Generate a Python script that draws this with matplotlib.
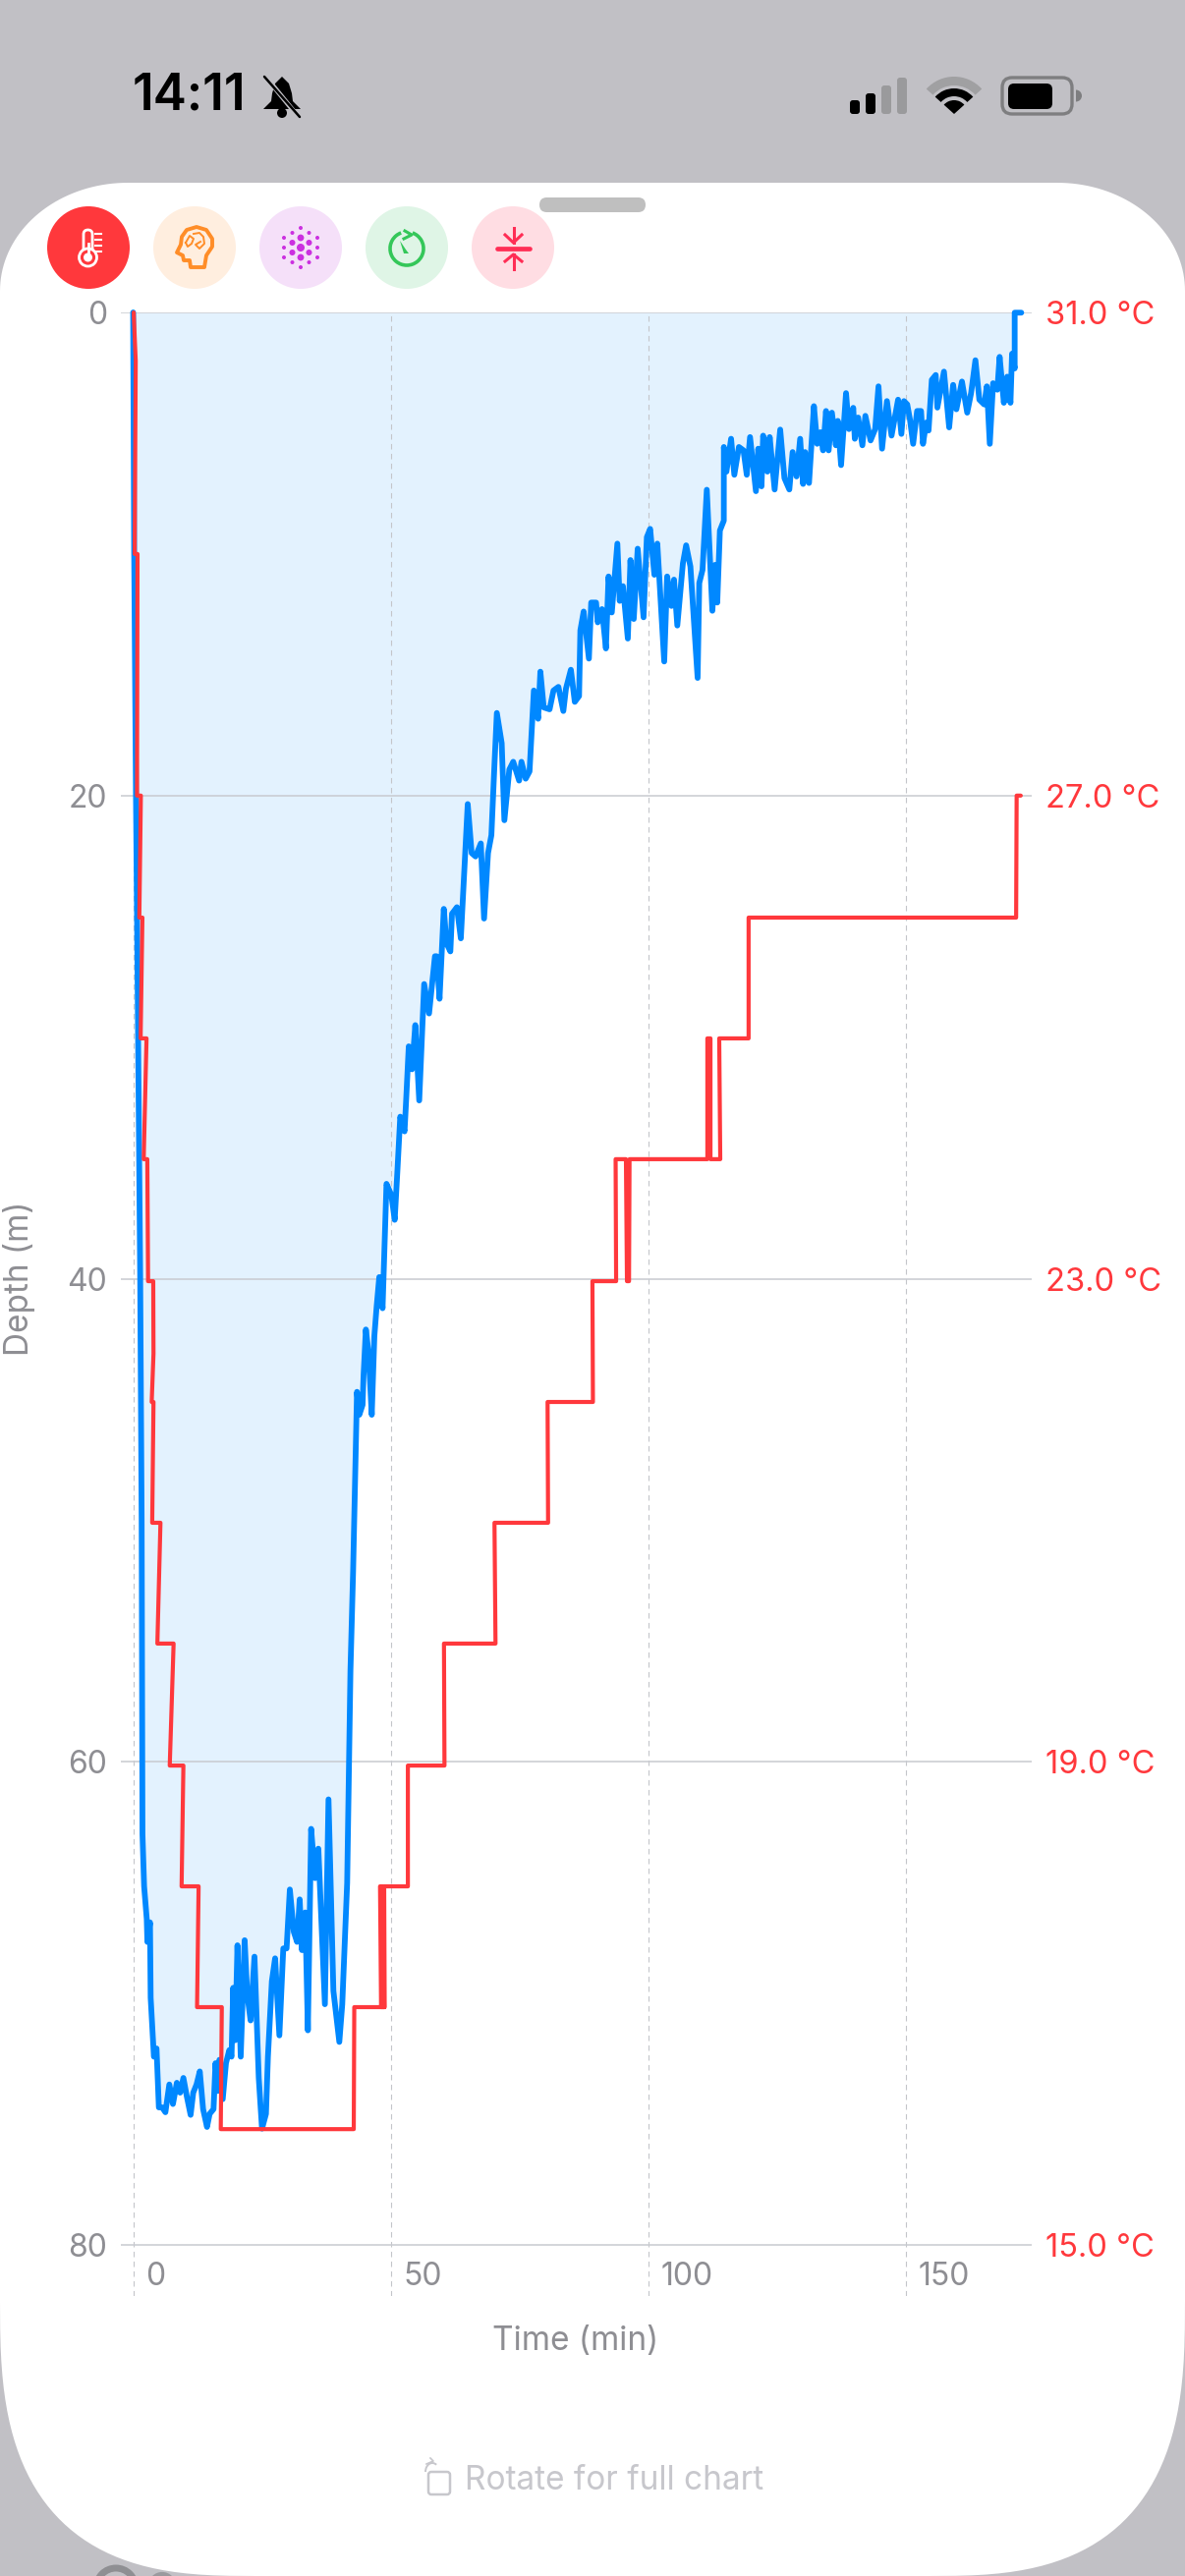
import numpy as np
import matplotlib
matplotlib.use("Agg")
import matplotlib.pyplot as plt
from matplotlib.patches import Circle, Polygon, FancyBboxPatch, Wedge, Arc

plt.rcParams["font.family"] = ["Inter", "DejaVu Sans"]

W, H = 1206, 2622

# depth profile
depth_time = [0.0, 0.1, 0.2, 0.55, 0.95, 1.37, 1.65, 1.81, 2.13, 2.64, 2.76, 3.27, 3.40, 3.91, 4.03, 4.54, 4.99, 5.62, 6.26,
              7.02, 7.72, 8.48, 9.12, 9.75, 10.39, 11.15, 11.66, 12.3, 12.93, 13.57, 14.33, 14.84, 15.6, 15.98, 16.43,
              16.74, 17.38, 18.01, 18.65, 19.09, 19.41, 19.79, 20.24, 20.87, 21.63, 22.14, 22.78, 23.54, 24.37, 25.0,
              25.77, 26.15, 26.91, 27.54, 28.37, 29.13, 29.77, 30.4, 31.17, 31.8, 32.31, 32.75, 33.39, 33.9, 34.53,
              35.3, 35.93, 37.2, 37.9, 38.85, 40.0, 40.57, 41.52, 42.16, 42.67, 43.43, 43.88, 44.51, 44.7, 45.15,
              45.66, 46.29, 46.8, 47.24, 47.75, 48.39, 49.15, 50.1, 50.74, 51.25, 51.82, 52.65, 52.96, 53.47, 54.1,
              54.74, 55.5, 56.46, 57.41, 58.55, 58.87, 59.44, 60.27, 60.78, 61.54, 61.86, 62.81, 63.57, 64.91, 65.67,
              66.43, 67.45, 68.08, 68.85, 69.5, 70.1, 70.56, 71.5, 72.02, 72.98, 73.74, 74.88, 75.33, 76.15, 76.9,
              77.74, 78.57, 79.0, 79.65, 80.79, 81.55, 82.5, 83.46, 83.97, 84.92, 85.68, 86.51, 86.76, 87.4, 88.42,
              88.86, 89.81, 90.13, 90.95, 91.72, 92.23, 92.86, 93.94, 94.39, 95.02, 95.97, 96.48, 97.12, 97.88, 99.02,
              99.66, 100.3, 101.12, 101.69, 103.03, 103.6, 104.43, 104.93, 105.57, 106.65, 107.28, 108.11, 109.51,
              109.83, 110.46, 111.29, 112.37, 112.88, 113.32, 113.83, 114.59, 114.6, 115.1, 116.0, 116.63, 117.52,
              118.41, 119.04, 119.68, 120.82, 121.27, 121.9, 122.22, 123.05, 123.49, 124.45, 125.53, 126.35, 127.3,
              127.94, 128.7, 129.4, 129.97, 130.35, 131.12, 132.07, 132.7, 133.34, 133.85, 134.42, 134.93, 135.56,
              136.33, 136.71, 137.34, 138.3, 138.87, 139.7, 140.0, 140.65, 141.47, 142.05, 143.06, 143.95, 144.6,
              145.29, 146.24, 147.13, 148.4, 149.04, 149.54, 150.18, 150.69, 151.32, 152.09, 152.85, 153.23, 153.86,
              154.31, 154.94, 155.7, 156.02, 157.3, 158.31, 159.08, 159.71, 160.79, 161.81, 162.57, 163.4, 164.16,
              165.11, 165.62, 166.19, 166.83, 167.65, 168.1, 168.92, 169.56, 170.2, 170.51, 171.02, 171.02, 172.3]
depth_m = [0.0, 5.0, 10.0, 20.0, 30.0, 40.0, 50.0, 62.98, 65.15, 66.5, 67.45, 66.64, 69.76, 71.79, 72.2, 71.86, 74.3, 74.3, 74.5,
           73.35, 74.16, 73.28, 73.69, 73.08, 73.82, 74.61, 73.69, 73.35, 72.81, 74.37, 75.11, 74.57, 74.37, 72.47, 73.62,
           72.33, 73.96, 72.47, 71.93, 72.2, 69.35, 71.52, 67.59, 72.2, 67.38, 69.62, 70.7, 68.06, 73.08, 75.18,
           74.57, 72.2, 69.08, 68.13, 71.32, 67.72, 67.72, 65.28, 67.04, 67.45, 65.69, 67.79, 66.23, 71.11, 62.77,
           64.81, 63.59, 70.03, 61.55, 69.48, 71.59, 70.03, 65.01, 56.2, 52.13, 44.68, 45.63, 45.22, 44.0, 42.1,
           43.05, 45.63, 42.37, 41.15, 39.93, 41.22, 36.07, 36.54, 37.56, 35.6, 33.29, 33.9, 32.62, 30.38, 31.33,
           29.5, 32.62, 27.8, 29.02, 26.65, 26.65, 28.41, 24.69, 26.11, 26.45, 24.89, 24.62, 25.91, 20.35, 22.38,
           22.52, 21.98, 25.09, 22.38, 21.64, 18.7, 16.58, 17.83, 21.02, 18.92, 18.6, 19.38, 18.6, 19.3, 19.0,
           15.65, 16.82, 14.87, 16.35, 16.43, 15.65, 15.5, 16.5, 15.57, 14.79, 16.12, 15.88, 13.16, 12.38, 14.33,
           12.01, 12.01, 12.83, 12.28, 13.91, 10.93, 12.42, 9.57, 11.94, 11.33, 13.5, 10.25, 12.69, 9.78, 12.62,
           9.3, 8.96, 10.86, 9.57, 14.45, 10.93, 12.15, 11.06, 12.96, 10.39, 9.64, 10.52, 15.13,
           11.2, 10.66, 7.34, 12.35, 10.45, 12.01, 9.03, 8.62, 5.57, 6.59, 5.23, 6.72, 5.57,
           5.71, 6.72, 5.16, 7.4, 5.64, 7.2, 5.1, 6.59, 5.16, 7.33, 4.85, 6.86, 7.33,
           5.78, 6.79, 5.23, 7.1, 5.78, 7.06, 3.88, 5.44, 4.96, 5.71, 4.08, 5.71, 4.15,
           5.5, 4.49, 6.32, 3.34, 4.83, 3.95, 5.23, 4.35, 5.5, 4.28, 5.3, 4.83, 3.06,
           5.64, 3.67, 5.1, 3.61, 5.03, 3.67, 3.81, 4.42, 5.44, 4.08, 4.08, 5.44, 4.56,
           4.89, 2.79, 2.59, 3.94, 2.45, 4.76, 3.0, 4.01, 2.86, 4.15, 3.33, 1.98, 3.61,
           3.81, 3.06, 5.44, 2.93, 3.2, 1.84, 3.74, 2.66, 3.74, 1.71, 2.32, 0.01, 0.01]

# water temperature, goes in whole degrees (sits a hair under the gridlines further down)
temp_time = [0.1, 0.5, 0.3, 0.85, 0.75, 1.5, 1.2, 1.8, 1.45, 2.6, 2.05, 2.75, 2.9, 3.9, 3.95, 3.6, 3.95, 3.7, 5.3, 4.7,
             7.85, 7.1, 9.75, 9.4, 12.7, 12.4, 17.2, 17.0, 42.8, 42.9, 48.7, 48.5, 47.9, 48.1, 48.8, 48.7, 53.3, 53.3,
             60.4, 60.3, 70.3, 70.1, 80.5, 80.4, 89.2, 89.1, 93.7, 93.6, 95.6, 95.8, 96.2, 96.3, 111.4, 111.4, 112.0,
             112.0, 113.9, 113.7, 119.4, 119.4, 171.3, 171.4, 172.2]
temp_c = [31, 30.6, 29, 29, 27, 27, 25.99, 25.99, 24.99, 24.99, 23.99, 23.99, 22.98, 22.98, 22.38, 21.98, 21.98, 20.98, 20.98, 19.98,
          19.98, 18.97, 18.97, 17.97, 17.97, 16.97, 16.97, 15.96, 15.96, 16.97, 16.97, 17.97, 17.97, 16.97, 16.97, 17.97, 17.97, 18.97,
          18.97, 19.98, 19.98, 20.98, 20.98, 21.98, 21.98, 22.98, 22.98, 23.99, 23.99, 22.98, 22.98, 23.99, 23.99, 24.99, 24.99,
          23.99, 23.99, 24.99, 24.99, 25.99, 25.99, 27, 27]

depth_ticks = [0, 20, 40, 60, 80]
time_ticks = [0, 50, 100, 150]
temp_ticks = [31.0, 27.0, 23.0, 19.0, 15.0]

BLUE = "#0088FF"
FILL = "#E3F2FE"
RED = "#FF383C"
GRAY = "#8E8E93"
BG = "#C1C0C5"

fig = plt.figure(figsize=(W / 100, H / 100), dpi=100, facecolor=BG)

# screen furniture, in pixels
ui = fig.add_axes([0, 0, 1, 1], zorder=0)
ui.set_xlim(0, W)
ui.set_ylim(H, 0)
ui.axis("off")


def corner(cx, cy, a, b, n, start, stop):
    ang = np.linspace(start, stop, 40)
    xs = cx + a * np.sign(np.cos(ang)) * np.abs(np.cos(ang)) ** (2 / n)
    ys = cy + b * np.sign(np.sin(ang)) * np.abs(np.sin(ang)) ** (2 / n)
    return np.column_stack([xs, ys])


# bit of the screen underneath, peeking out below the sheet
ui.add_patch(Circle((118, 2634), 20, fc="none", ec="#8F8F93", lw=5))
ui.add_patch(Circle((165, 2632), 12, fc="none", ec="#9A9A9E", lw=3))

panel = np.vstack([
    corner(130, 296, 130, 110, 2, np.pi, 1.5 * np.pi),
    corner(W - 130, 296, 130, 110, 2, 1.5 * np.pi, 2 * np.pi),
    corner(W - 260, 2342, 260, 280, 2.8, 0, 0.5 * np.pi),
    corner(260, 2342, 260, 280, 2.8, 0.5 * np.pi, np.pi),
])
ui.add_patch(Polygon(panel, closed=True, fc="white", ec="none"))

ui.add_patch(FancyBboxPatch((549, 201), 108, 15, boxstyle="round,pad=0,rounding_size=7.5", fc="#BFBFBF", ec="none"))

# status bar
ui.text(135, 98, "14:11", fontsize=37, fontweight="semibold", color="black", ha="left", va="center")
bell = [(287, 78), (294, 85), (297, 95), (298, 103), (306, 111), (268, 111), (276, 103), (277, 95), (280, 85)]
ui.add_patch(Polygon(bell, closed=True, fc="black", ec="none"))
ui.add_patch(Circle((287, 115), 5, fc="black", ec="none"))
ui.plot([272, 302], [80, 117], color=BG, lw=3.5, solid_capstyle="butt")
ui.plot([269, 305], [78, 119], color="black", lw=1.8, solid_capstyle="round")
for x0, top, col in [(865, 102, "black"), (881, 95, "black"), (897, 87, "#9A9A9C"), (913, 79, "#9A9A9C")]:
    ui.add_patch(FancyBboxPatch((x0, top), 10, 116 - top, boxstyle="round,pad=0,rounding_size=3", fc=col, ec="none"))
ui.add_patch(Wedge((971, 116), 38, 222, 318, width=9, fc="#A0A0A2", ec="none"))
ui.add_patch(Wedge((971, 116), 26, 222, 318, width=8, fc="black", ec="none"))
ui.add_patch(Wedge((971, 116), 14, 222, 318, fc="black", ec="none"))
ui.add_patch(FancyBboxPatch((1020, 79), 71, 37, boxstyle="round,pad=0,rounding_size=10", fc="none", ec="#7E7E80", lw=2.4))
ui.add_patch(FancyBboxPatch((1026, 85), 45, 26, boxstyle="round,pad=0,rounding_size=6", fc="black", ec="none"))
ui.add_patch(Wedge((1095, 97.5), 6, -90, 90, fc="#7E7E80", ec="none"))

# the row of round buttons
button_x = [90, 198, 306, 414, 522]
button_col = [RED, "#FFEEDF", "#F5E0F9", "#DFF5E6", "#FFDDE3"]
for bx, col in zip(button_x, button_col):
    ui.add_patch(Circle((bx, 252), 42, fc=col, ec="none"))

# thermometer
ui.add_patch(FancyBboxPatch((85, 234), 9, 28, boxstyle="round,pad=0,rounding_size=4.5", fc="none", ec="white", lw=2))
ui.add_patch(Circle((89.5, 262), 9, fc=RED, ec="white", lw=2))
ui.add_patch(Circle((89.5, 262), 4.5, fc="white", ec="none"))
ui.plot([89.5, 89.5], [248, 262], color="white", lw=2)
for ty in [238, 244, 250, 256]:
    ui.plot([97, 103], [ty, ty], color="white", lw=1.5)

# head with brain
ORANGE = "#FF8D28"
head = [(194, 272), (193, 265), (187, 265), (186, 260), (180, 257), (184, 249), (185, 241), (190, 234), (200, 231), (210, 234),
        (216, 243), (216, 251), (210, 260), (208, 272)]
ui.add_patch(Polygon(head, closed=True, fc="none", ec=ORANGE, lw=2.8, joinstyle="round"))
ui.plot([189, 193, 197, 195, 191, 189], [247, 240, 243, 248, 251, 247], color=ORANGE, lw=1.4)
ui.plot([197, 203, 207, 208, 203, 199, 204], [238, 237, 241, 248, 253, 249, 246], color=ORANGE, lw=1.4)

# dots
PURPLE = "#CB30E0"
dot_cols = [(-17, [-10, 0, 10], [2, 2, 2]), (-8.5, [-15, -5, 5, 15], [2, 3, 3, 2]), (0, [-20, -10, 0, 10, 20], [2, 3.4, 4, 3.4, 2]),
            (8.5, [-15, -5, 5, 15], [2, 3, 3, 2]), (17, [-10, 0, 10], [2, 2, 2])]
for dx, ys, sizes in dot_cols:
    for dy, sz in zip(ys, sizes):
        ui.add_patch(Circle((306 + dx, 252 + dy), sz, fc=PURPLE, ec="none"))

# timer
GREEN = "#34C759"
ui.add_patch(Arc((414, 253), 34, 34, theta1=-70, theta2=250, ec=GREEN, lw=2.6))
ui.plot([412, 419, 411], [235, 239, 243], color=GREEN, lw=2.2)
ui.add_patch(Polygon([(407, 245), (413, 254), (416, 258), (411, 258)], closed=True, fc=GREEN, ec="none"))

# compress arrows
PINK = "#FF2D55"
ui.plot([506, 539], [253, 253], color=PINK, lw=3.4, solid_capstyle="round")
ui.plot([522.5, 522.5], [232, 247], color=PINK, lw=2.2)
ui.plot([514, 522.5, 531], [239, 247, 239], color=PINK, lw=2.2)
ui.plot([522.5, 522.5], [259, 274], color=PINK, lw=2.2)
ui.plot([514, 522.5, 531], [266, 259, 266], color=PINK, lw=2.2)

# chart
px_min = 5.246
px_m = 24.59
ax = fig.add_axes([123 / W, 1 - 2337 / H, 927 / W, 2019 / H], zorder=1)
ax.patch.set_alpha(0)
ax.set_xlim((123 - 135.5) / px_min, (1050 - 135.5) / px_min)
ax.set_ylim((2337 - 318) / px_m, 0)

ax.fill_between(depth_time, depth_m, 0, color=FILL, linewidth=0, zorder=1)
ax.plot(depth_time, depth_m, color=BLUE, lw=4.2, solid_joinstyle="round", solid_capstyle="round", clip_on=False, zorder=3)

for s in ax.spines.values():
    s.set_visible(False)
ax.set_axisbelow(False)
ax.set_yticks(depth_ticks)
ax.set_xticks(time_ticks)
ax.set_xticklabels([])
ax.grid(True, axis="y", color="#C8CAD0", lw=1.1)
ax.grid(True, axis="x", color="#C4C6CA", lw=0.8, linestyle=(0, (5, 4)))
ax.tick_params(axis="both", length=0)
ax.tick_params(axis="y", labelsize=23, labelcolor=GRAY, pad=10)
for t in time_ticks:
    ax.annotate(str(t), xy=(t, 80), xytext=(9, -23), textcoords="offset points", ha="left", va="center",
                fontsize=23, color=GRAY)

ax2 = ax.twinx()
ax2.set_zorder(2)
ax2.patch.set_alpha(0)
ax2.set_ylim(31 - 0.2 * (2337 - 318) / px_m, 31)
ax2.plot(temp_time, temp_c, color=RED, lw=3, solid_joinstyle="round", solid_capstyle="round", clip_on=False)
for s in ax2.spines.values():
    s.set_visible(False)
ax2.set_yticks(temp_ticks)
ax2.set_yticklabels([f"{v:.1f} °C" for v in temp_ticks])
ax2.tick_params(axis="y", length=0, labelsize=23.5, labelcolor=RED, pad=10)

# axis titles sit at fixed spots on the sheet
ui.text(586, 2383, "Time (min)", fontsize=24, color=GRAY, ha="center", va="center", zorder=5)
ui.text(20, 1301, "Depth (m)", fontsize=24, color=GRAY, rotation=90, ha="center", va="center", zorder=5)
ui.text(473, 2525, "Rotate for full chart", fontsize=24, color="#C7C7CC", ha="left", va="center", zorder=5)
ui.add_patch(FancyBboxPatch((436, 2516), 22, 23, boxstyle="round,pad=0,rounding_size=3", fc="none", ec="#C7C7CC", lw=1.8))
ui.add_patch(Arc((440, 2516), 14, 18, theta1=180, theta2=300, ec="#C7C7CC", lw=1.4))
ui.plot([434, 441, 438], [2508, 2505, 2502], color="#C7C7CC", lw=1.2)

fig.savefig("out.png", dpi=100, facecolor=BG)
